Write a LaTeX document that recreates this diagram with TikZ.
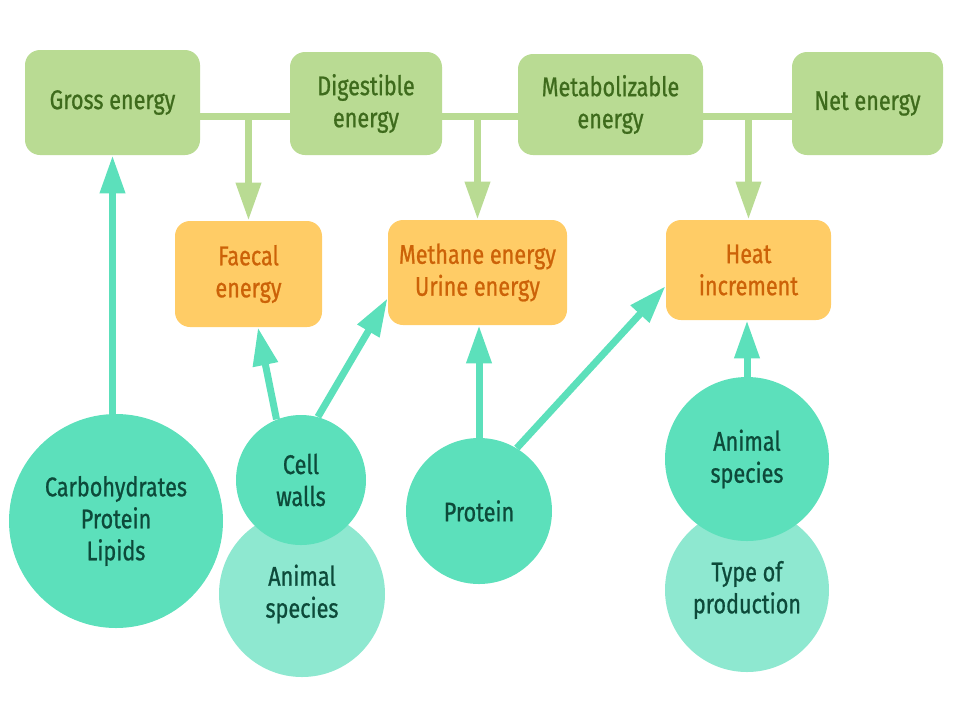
\documentclass[tikz,border=0pt]{standalone}
\usepackage{fontspec}
\setmainfont{Fira Sans}[FakeStretch=0.8, FakeBold=0.8]
\usetikzlibrary{arrows.meta, backgrounds}

\definecolor{boxgreen}{HTML}{B9DB93}
\definecolor{textgreen}{HTML}{3E6B1C}
\definecolor{boxorange}{HTML}{FFCC66}
\definecolor{textorange}{HTML}{CC6208}
\definecolor{teal}{HTML}{5CE0BB}
\definecolor{lightteal}{HTML}{8EE8D0}
\definecolor{textteal}{HTML}{0D4A3A}

\tikzset{
  energy/.style={rectangle, rounded corners=7.5pt, fill=boxgreen, text=textgreen,
    align=center, font=\fontsize{13.5}{16}\selectfont},
  loss/.style={rectangle, rounded corners=7.5pt, fill=boxorange, text=textorange,
    align=center, font=\fontsize{13.5}{16}\selectfont},
  factor/.style={circle, fill=teal, text=textteal, align=center, inner sep=0pt,
    font=\fontsize{13.5}{16}\selectfont},
  subfactor/.style={factor, fill=lightteal},
  bus/.style={boxgreen, line width=3.5pt},
  down/.style={bus, -{Triangle[width=12pt, length=19pt]}},
  up/.style={teal, line width=3.5pt, -{Triangle[width=12pt, length=19pt]}}
}

\begin{document}
\begin{tikzpicture}[x=0.5pt, y=-0.5pt]
  \useasboundingbox (0,0) rectangle (960,720);

  % Boxes
  \node[energy, minimum width=87.5pt, minimum height=52.5pt] (gross) at (112.5,102.5) {Gross energy};
  \node[energy, minimum width=76pt, minimum height=51.5pt] (digest) at (366,103.5) {Digestible\\energy};
  \node[energy, minimum width=92.5pt, minimum height=50.5pt] (metab) at (610.5,104.5) {Metabolizable\\energy};
  \node[energy, minimum width=75.5pt, minimum height=51.5pt] (net) at (867.5,103.5) {Net energy};
  \node[loss, minimum width=73.5pt, minimum height=53pt] (faecal) at (248.5,274) {Faecal\\energy};
  \node[loss, minimum width=89.5pt, minimum height=52.5pt] (methane) at (477.5,272.5) {Methane energy\\Urine energy};
  \node[loss, minimum width=82.5pt, minimum height=50pt] (heat) at (748.5,270) {Heat\\increment};

  % Circles
  \node[subfactor, minimum size=83pt] (species1) at (302,594) {Animal\\species};
  \node[subfactor, minimum size=82pt] (production) at (747,590) {Type of\\production};
  \node[factor, minimum size=107pt] (nutrients) at (116,521) {Carbohydrates\\Protein\\Lipids};
  \node[factor, minimum size=65pt] (cellwalls) at (301,480) {Cell\\walls};
  \node[factor, minimum size=73pt] (protein) at (479,511) {Protein};
  \node[factor, minimum size=82pt] (species2) at (747,459) {Animal\\species};

  % Connectors
  \begin{pgfonlayer}{background}
    \coordinate (bus) at (0,116);
    \draw[bus] (gross.east |- bus) -- (net.west |- bus);
    \draw[down] (faecal.north |- bus) -- (faecal.north);
    \draw[down] (methane.north |- bus) -- (methane.north);
    \draw[down] (heat.north |- bus) -- (heat.north);

    \draw[up] (nutrients.north -| gross.south) -- (gross.south);
    \draw[up] (cellwalls.112) -- (faecal.-80);
    \draw[up] (cellwalls.75) -- (methane.-164);
    \draw[up] (protein.north) -- (methane.south -| protein.north);
    \draw[up] (protein.59) -- (heat.-169);
    \draw[up] (species2.north) -- (heat.south -| species2.north);
  \end{pgfonlayer}
\end{tikzpicture}
\end{document}
